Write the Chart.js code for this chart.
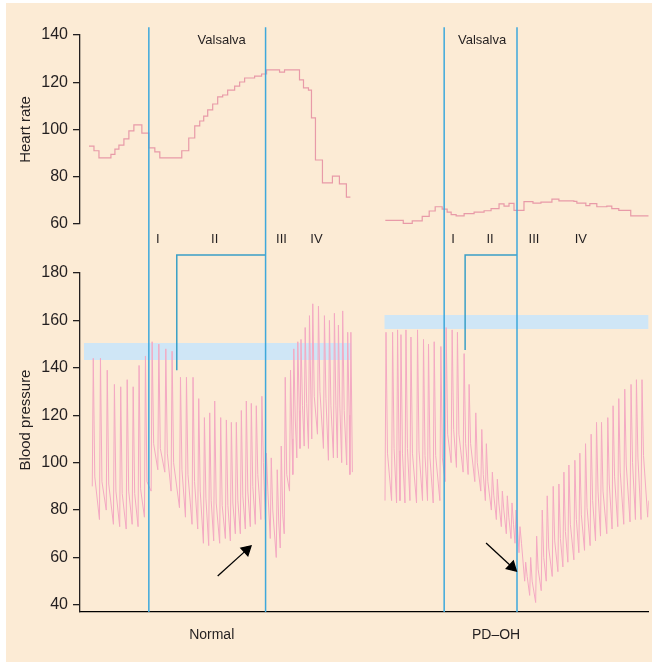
<!DOCTYPE html>
<html>
<head>
<meta charset="utf-8">
<script src="https://cdn.jsdelivr.net/npm/chart.js@4.4.1/dist/chart.umd.min.js"></script>
<style>
  html, body { margin: 0; padding: 0; background: #fff; }
</style>
</head>
<body>
<canvas id="chart" width="656" height="667"></canvas>
<script>
// time axis in seconds (one panel per subject), left = Normal, right = PD-OH
const X_LABELS = ['Normal', 'PD\u2013OH'];
const X_LABEL_POS = [13.2, 41.7];
const HR_TICKS = [60, 80, 100, 120, 140];
const BP_TICKS = [40, 60, 80, 100, 120, 140, 160, 180];

// Valsalva start / release (s)
const VALSALVA_NORMAL = [6.9, 18.6];
const VALSALVA_PD = [36.5, 43.8];
const VALSALVA_LABEL_X = [14.2, 40.3];

// Heart rate, step trace (start time of each step, bpm)
const hrNormalT = [0.9,1.4,1.9,3.1,3.5,3.9,4.4,4.9,5.4,6.2,6.9,7.5,8.0,10.2,10.9,11.5,12.0,12.4,12.8,13.3,13.8,14.3,14.8,15.5,16.0,16.5,17.5,18.2,18.7,20.0,20.5,22.0,22.4,22.9,23.2,23.6,24.3,25.3,26.0,26.7,27.1];
const hrNormal = [93,91,88,89.5,91.7,93.4,96,99.4,102,98.5,92.2,90.5,88,91,96.4,101.5,103.6,105.7,108.3,110.8,113.8,114.6,116.7,118.4,120.1,121.8,122.6,123.5,125.2,124.3,125.2,121,117.6,116.7,104.9,87.1,77.4,80.3,77,71.4,71.4];
const hrPdT = [30.6,32.4,33.3,34.3,35.0,35.6,36.3,36.8,37.2,37.7,38.5,39.5,40.5,41.2,42.0,42.5,43.0,43.5,44.5,45.4,46.2,47.3,48.0,49.5,49.8,50.7,51.1,51.8,52.8,53.3,54.0,55.2,57.0];
const hrPd = [61.5,60.3,61.3,63.2,65.5,67.3,66.3,65,64,63.4,64.4,65,65.6,66.5,68.5,67.6,68.7,65.8,69.5,68.8,69.3,70.5,69.8,69.6,68.8,67.8,68.6,67.3,67.6,66.5,65.8,63.4,63.4];

// Blood pressure, beat by beat: peak time, systolic, preceding trough, dicrotic notch
const bpNormalT = [1.33,2.05,2.73,3.45,4.08,4.73,5.33,5.92,6.56,7.23,7.9,8.6,9.23,10.07,10.67,11.33,11.9,12.47,13.0,13.5,14.1,14.67,15.17,15.67,16.17,16.67,17.17,17.67,18.23,18.68,19.17,19.77,20.17,20.57,21.1,21.43,21.83,22.15,22.57,23.0,23.33,23.9,24.5,25.0,25.5,25.9,26.33,26.83,27.15];
const bpNormalSys = [144,144,139,133,132,135,132,141,145,151,150,148,147,136,136,136,127,119,121,126,119,118,117,117,122,126,125,124,128,104,102,97,107,136,139,148,151,152,157,162,167,166,162,160,163,158,164,155,155];
const bpNormalDia = [90,76,80,74,73,72,74,73,77,88,97,96,88,81,77,74,72,66,65,67,66,68,67,70,70,72,73,74,76,76,68,60,64,70,88,95,102,106,107,106,110,112,106,101,102,102,100,99,95];
const bpNormalNotch = [94,92,91,88,87,88,87,89,92,108,106,104,100,97,95,92,88,85,84,83,82,82,83,84,86,88,90,95,100,88,80,75,78,95,110,118,122,124,125,126,128,130,127,124,124,123,122,120,96];

const bpPdT = [30.67,31.33,31.83,32.17,32.67,33.17,33.83,34.43,34.93,35.5,36.17,36.7,37.3,37.83,38.5,39.0,39.67,40.27,40.73,41.33,41.83,42.33,42.83,43.3,43.7,44.1,44.67,45.17,45.77,46.33,46.83,47.43,48.0,48.5,49.0,49.6,50.1,50.67,51.23,51.77,52.27,52.9,53.43,54.0,54.6,55.23,55.77,56.33];
const bpPdSys = [155,155,156,154,156,153,156,152,150,151,149,157,156,155,146,133,121,114,108,96,93,88,86,83,80,73,58,60,69,80,86,90,91,96,99,101,104,108,112,117,117,119,124,127,131,133,135,135];
const bpPdDia = [84,84,83,84,83,84,83,84,84,83,84,92,100,98,96,95,92,88,84,80,76,73,70,68,66,62,50,44,41,46,50,52,54,56,58,59,62,63,65,67,69,70,72,73,74,75,76,76];
const bpPdNotch = [104,106,105,104,106,104,105,103,102,103,102,112,114,112,108,108,100,95,92,86,83,80,77,74,72,66,52,50,55,60,64,67,68,71,74,76,78,81,84,88,88,91,94,96,99,100,102,103];
const bpPdTailT = [56.9, 57.0];
const bpPdTail = [77, 84];

// resting systolic bands (BP units)
const BAND_NORMAL = {from: 0.4, to: 27.2, lo: 143.3, hi: 150.5};
const BAND_PD = {from: 30.5, to: 57.0, lo: 156.4, hi: 162.3};

const PHASES = ['I', 'II', 'III', 'IV'];
const PHASE_X_NORMAL = [7.8, 13.5, 20.2, 23.7];
const PHASE_X_PD = [37.4, 41.1, 45.5, 50.2];

const BEIGE = '#fcebd5';
const BLUE = '#3ea8db';
const PINK = '#f4a9c3';
const HR_PINK = '#e89aa8';
const INK = '#231f20';
const FONT = '"Liberation Sans", Arial, sans-serif';

const LINE_TOP = 283.7;     // BP units, top of the Valsalva markers
const LINE_BOTTOM = 37;
const BRACKET_Y = 187.6;
const PHASE_LABEL_Y = 194;
const VALSALVA_LABEL_Y = 137.9;
const HR_TITLE_AT = 100;    // HR units, centre of the axis title
const BP_TITLE_AT = 118;    // BP units

function stepPoints(ts, vs) {
    return ts.map((t, i) => ({x: t, y: vs[i]}));
}

function beatWave(ts, sys, dia, notch) {
    var pts = [];
    ts.forEach(function(t, i) {
        pts.push({x: t - 0.1, y: dia[i]});
        pts.push({x: t, y: sys[i]});
        pts.push({x: t + 0.15, y: notch[i]});
    });
    return pts;
}

function vLine(x) {
    return {
        data: [{x: x, y: LINE_TOP}, {x: x, y: LINE_BOTTOM}],
        yAxisID: 'yBP', borderColor: BLUE, borderWidth: 1.5,
        pointRadius: 0, clip: false, order: 2
    };
}

function bracket(xRelease, xFoot, yFoot) {
    return {
        data: [{x: xRelease, y: BRACKET_Y}, {x: xFoot, y: BRACKET_Y}, {x: xFoot, y: yFoot}],
        yAxisID: 'yBP', borderColor: '#3a9fc6', borderWidth: 1.5,
        pointRadius: 0, clip: false, order: 2
    };
}

function band(b) {
    return {
        data: [{x: b.from, y: b.hi}, {x: b.to, y: b.hi}],
        yAxisID: 'yBP', borderWidth: 0, pointRadius: 0,
        backgroundColor: '#cfe6f6', fill: {value: b.lo}, order: 10
    };
}

function arrow(x0, y0, x1, y1, rot) {
    return {
        data: [{x: x0, y: y0}, {x: x1, y: y1}],
        yAxisID: 'yBP', borderColor: '#000', backgroundColor: '#000', borderWidth: 1.3,
        pointRadius: [0, 6], pointStyle: 'triangle', pointRotation: [0, rot], order: 1
    };
}

var pdWave = beatWave(bpPdT, bpPdSys, bpPdDia, bpPdNotch)
    .concat(bpPdTailT.map((t, i) => ({x: t, y: bpPdTail[i]})));

var datasets = [
    band(BAND_NORMAL),
    band(BAND_PD),
    {data: stepPoints(hrNormalT, hrNormal), yAxisID: 'yHR', stepped: true, borderColor: HR_PINK, borderWidth: 1.2, pointRadius: 0, order: 5},
    {data: stepPoints(hrPdT, hrPd), yAxisID: 'yHR', stepped: true, borderColor: HR_PINK, borderWidth: 1.2, pointRadius: 0, order: 5},
    {data: beatWave(bpNormalT, bpNormalSys, bpNormalDia, bpNormalNotch), yAxisID: 'yBP', borderColor: PINK, borderWidth: 1, pointRadius: 0, order: 5},
    {data: pdWave, yAxisID: 'yBP', borderColor: PINK, borderWidth: 1, pointRadius: 0, order: 5},
    vLine(VALSALVA_NORMAL[0]), vLine(VALSALVA_NORMAL[1]),
    vLine(VALSALVA_PD[0]), vLine(VALSALVA_PD[1]),
    // brackets from release line back into phase II
    bracket(VALSALVA_NORMAL[1], 9.7, 139),
    bracket(VALSALVA_PD[1], 38.6, 147.5),
    arrow(13.8, 52.2, 16.7, 63.2, 48),
    arrow(40.7, 66.1, 43.3, 56.0, 133)
];

const background = {
    id: 'background',
    beforeDraw(chart) {
        const ctx = chart.ctx;
        ctx.save();
        ctx.fillStyle = '#fff';
        ctx.fillRect(0, 0, chart.width, chart.height);
        ctx.fillStyle = BEIGE;
        ctx.fillRect(6, 3, 646, 659);
        ctx.restore();
    }
};

const labels = {
    id: 'labels',
    afterDatasetsDraw(chart) {
        const {ctx, scales} = chart;
        const x = scales.x, yHR = scales.yHR, yBP = scales.yBP;
        ctx.save();
        ctx.fillStyle = INK;
        ctx.textAlign = 'center';
        ctx.textBaseline = 'middle';
        ctx.font = '13px ' + FONT;
        VALSALVA_LABEL_X.forEach(function(t) {
            ctx.fillText('Valsalva', x.getPixelForValue(t), yHR.getPixelForValue(VALSALVA_LABEL_Y));
        });
        [PHASE_X_NORMAL, PHASE_X_PD].forEach(function(xs) {
            xs.forEach(function(t, i) {
                ctx.fillText(PHASES[i], x.getPixelForValue(t), yBP.getPixelForValue(PHASE_LABEL_Y));
            });
        });
        // rotated axis titles
        ctx.font = '15px ' + FONT;
        [['Heart rate', yHR.getPixelForValue(HR_TITLE_AT)], ['Blood pressure', yBP.getPixelForValue(BP_TITLE_AT)]].forEach(function(t) {
            ctx.save();
            ctx.translate(26, t[1]);
            ctx.rotate(-Math.PI / 2);
            ctx.fillText(t[0], 0, 0);
            ctx.restore();
        });
        ctx.restore();
    }
};

function yAxis(min, max, ticks, weight, stackWeight) {
    return {
        type: 'linear', position: 'left', stack: 'v', weight: weight, stackWeight: stackWeight,
        min: min, max: max,
        afterBuildTicks: s => { s.ticks = ticks.map(v => ({value: v})); },
        afterFit: s => { s.width = 74; },
        grid: {display: true, drawOnChartArea: false, drawTicks: true, tickLength: 7, color: INK, lineWidth: 1.3},
        border: {display: true, color: INK, width: 1.3},
        ticks: {color: INK, padding: 5, font: {family: FONT, size: 16}}
    };
}

new Chart(document.getElementById('chart').getContext('2d'), {
    type: 'line',
    data: {datasets: datasets},
    plugins: [background, labels],
    options: {
        responsive: false,
        animation: false,
        devicePixelRatio: 1,
        layout: {padding: {top: 35, left: 6, right: 6, bottom: 13}},
        plugins: {legend: {display: false}, tooltip: {enabled: false}},
        elements: {line: {tension: 0}},
        scales: {
            x: {
                type: 'linear', min: 0, max: 57,
                afterBuildTicks: s => { s.ticks = X_LABEL_POS.map(v => ({value: v})); },
                afterFit: s => { s.height = 42; },
                grid: {display: false, drawTicks: false},
                border: {display: true, color: '#000', width: 1.3},
                ticks: {color: INK, padding: 15, maxRotation: 0, font: {family: FONT, size: 14},
                        callback: (v, i) => X_LABELS[i]}
            },
            yHR: yAxis(60, 140, HR_TICKS, 3, 189),
            yGap: {
                type: 'linear', position: 'left', stack: 'v', weight: 2, stackWeight: 49,
                min: 0, max: 1, afterFit: s => { s.width = 74; },
                grid: {display: false}, border: {display: false}, ticks: {display: false}
            },
            yBP: yAxis(37, 180, BP_TICKS, 1, 339)
        }
    }
});
</script>
</body>
</html>
